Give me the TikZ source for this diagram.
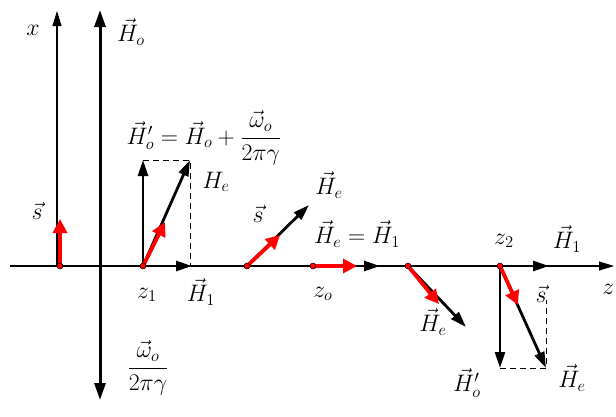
\documentclass[tikz,border=0pt]{standalone}
\usepackage{amsmath}
\usetikzlibrary{arrows.meta, positioning}

\begin{document}
\begin{tikzpicture}[
  x=1pt, y=-1pt,
  axis/.style={-{Triangle[length=15pt, width=9pt]}, line width=1.1pt},
  field/.style={-{Triangle[length=16pt, width=10pt]}, line width=2.8pt},
  spin/.style={-{Triangle[length=14pt, width=14pt]}, line width=3.8pt, red},
  spot/.style={circle, fill=red, draw=black, line width=0.5pt,
               inner sep=0pt, minimum size=6pt},
  guide/.style={line width=0.7pt, dash pattern=on 6pt off 4pt},
  lbl/.style={font=\huge, inner sep=1pt, scale=1.15, transform shape}
]
  \useasboundingbox (0,0) rectangle (616,416);

  % points on the axis
  \coordinate (zleft) at (10,266);
  \coordinate (zend) at (614,266);
  \coordinate (orig) at (57,266);
  \coordinate (xend) at (57,11);
  \coordinate (hobot) at (100,400);
  \coordinate (hotop) at (100,10);

  \coordinate (szero) at (60,266);
  \coordinate (szerotip) at (60,219);

  \coordinate (zone) at (143,266);
  \coordinate (zoneHo) at (143,160);
  \coordinate (zoneHi) at (192,266);
  \coordinate (zoneHe) at (190,160);
  \coordinate (zoneS) at (165,222);
  \coordinate (zonebox) at (190,160);
  \coordinate (zoneaxis) at (190,266);

  \coordinate (pone) at (247,266);
  \coordinate (poneS) at (280,235);
  \coordinate (poneHe) at (309,205);

  \coordinate (zzero) at (313,266);
  \coordinate (zzeroS) at (357,266);
  \coordinate (zzeroHe) at (380,266);

  \coordinate (ptwo) at (408,266);
  \coordinate (ptwoS) at (439,304);
  \coordinate (ptwoHe) at (466,327);

  \coordinate (ztwo) at (500,266);
  \coordinate (ztwoHo) at (500,368);
  \coordinate (ztwoHi) at (549,266);
  \coordinate (ztwoHe) at (546,368);
  \coordinate (ztwoS) at (518,305);
  \coordinate (ztwobox) at (546,368);
  \coordinate (ztwotop) at (546,300);

  % axes
  \draw[axis] (zleft) -- (zend);
  \draw[axis] (orig) -- (xend);
  \draw[{Triangle[length=17pt, width=11pt]}-{Triangle[length=17pt, width=11pt]},
        line width=3pt] (hobot) -- (hotop);

  % dashed boxes
  \draw[guide] (zoneHo) -- (zonebox) -- (zoneaxis);
  \draw[guide] (ztwoHo) -- (ztwobox) -- (ztwotop);

  % field vectors
  \draw[field] (zone) -- (zoneHo);
  \draw[field] (zone) -- (zoneHi);
  \draw[field] (zone) -- (zoneHe);
  \draw[field] (pone) -- (poneHe);
  \draw[field] (zzero) -- (zzeroHe);
  \draw[field] (ptwo) -- (ptwoHe);
  \draw[field] (ztwo) -- (ztwoHo);
  \draw[field] (ztwo) -- (ztwoHi);
  \draw[field] (ztwo) -- (ztwoHe);

  % spins
  \draw[spin] (szero) -- (szerotip);
  \draw[spin] (zone) -- (zoneS);
  \draw[spin] (pone) -- (poneS);
  \draw[spin] (zzero) -- (zzeroS);
  \draw[spin] (ptwo) -- (ptwoS);
  \draw[spin] (ztwo) -- (ztwoS);
  \foreach \p in {szero, zone, pone, zzero, ptwo, ztwo}
    \node[spot] at (\p) {};

  % labels
  \node[lbl] (xlbl) at (33,30) {$x$};
  \node[lbl] (holbl) at (131,32) {$\vec{H}_o$};
  \node[lbl] (formula) at (204,138)
    {$\vec{H}_o' = \vec{H}_o + \dfrac{\vec{\omega}_o}{2\pi\gamma}$};
  \node[lbl] (frac) at (148,368) {$\dfrac{\vec{\omega}_o}{2\pi\gamma}$};
  \node[lbl] (szlbl) at (37,211) {$\vec{s}$};
  \node[lbl] (helbl) at (216,182) {$H_e$};
  \node[lbl] (zonelbl) at (147,295) {$z_1$};
  \node[lbl] (hilbl) at (201,292) {$\vec{H}_1$};
  \node[lbl] (solbl) at (258,214) {$\vec{s}$};
  \node[lbl] (heolbl) at (329,185) {$\vec{H}_e$};
  \node[lbl] (eqlbl) at (357,234) {$\vec{H}_e = \vec{H}_1$};
  \node[lbl] (zzerolbl) at (323,294) {$z_o$};
  \node[lbl] (hetlbl) at (433,322) {$\vec{H}_e$};
  \node[lbl] (ztwolbl) at (504,241) {$z_2$};
  \node[lbl] (hitlbl) at (567,239) {$\vec{H}_1$};
  \node[lbl] (stlbl) at (541,294) {$\vec{s}$};
  \node[lbl] (hoplbl) at (467,383) {$\vec{H}_o'$};
  \node[lbl] (hefinlbl) at (572,378) {$\vec{H}_e$};
  \node[lbl, anchor=west] (zlbl) at (601,289) {$z$};
\end{tikzpicture}
\end{document}
